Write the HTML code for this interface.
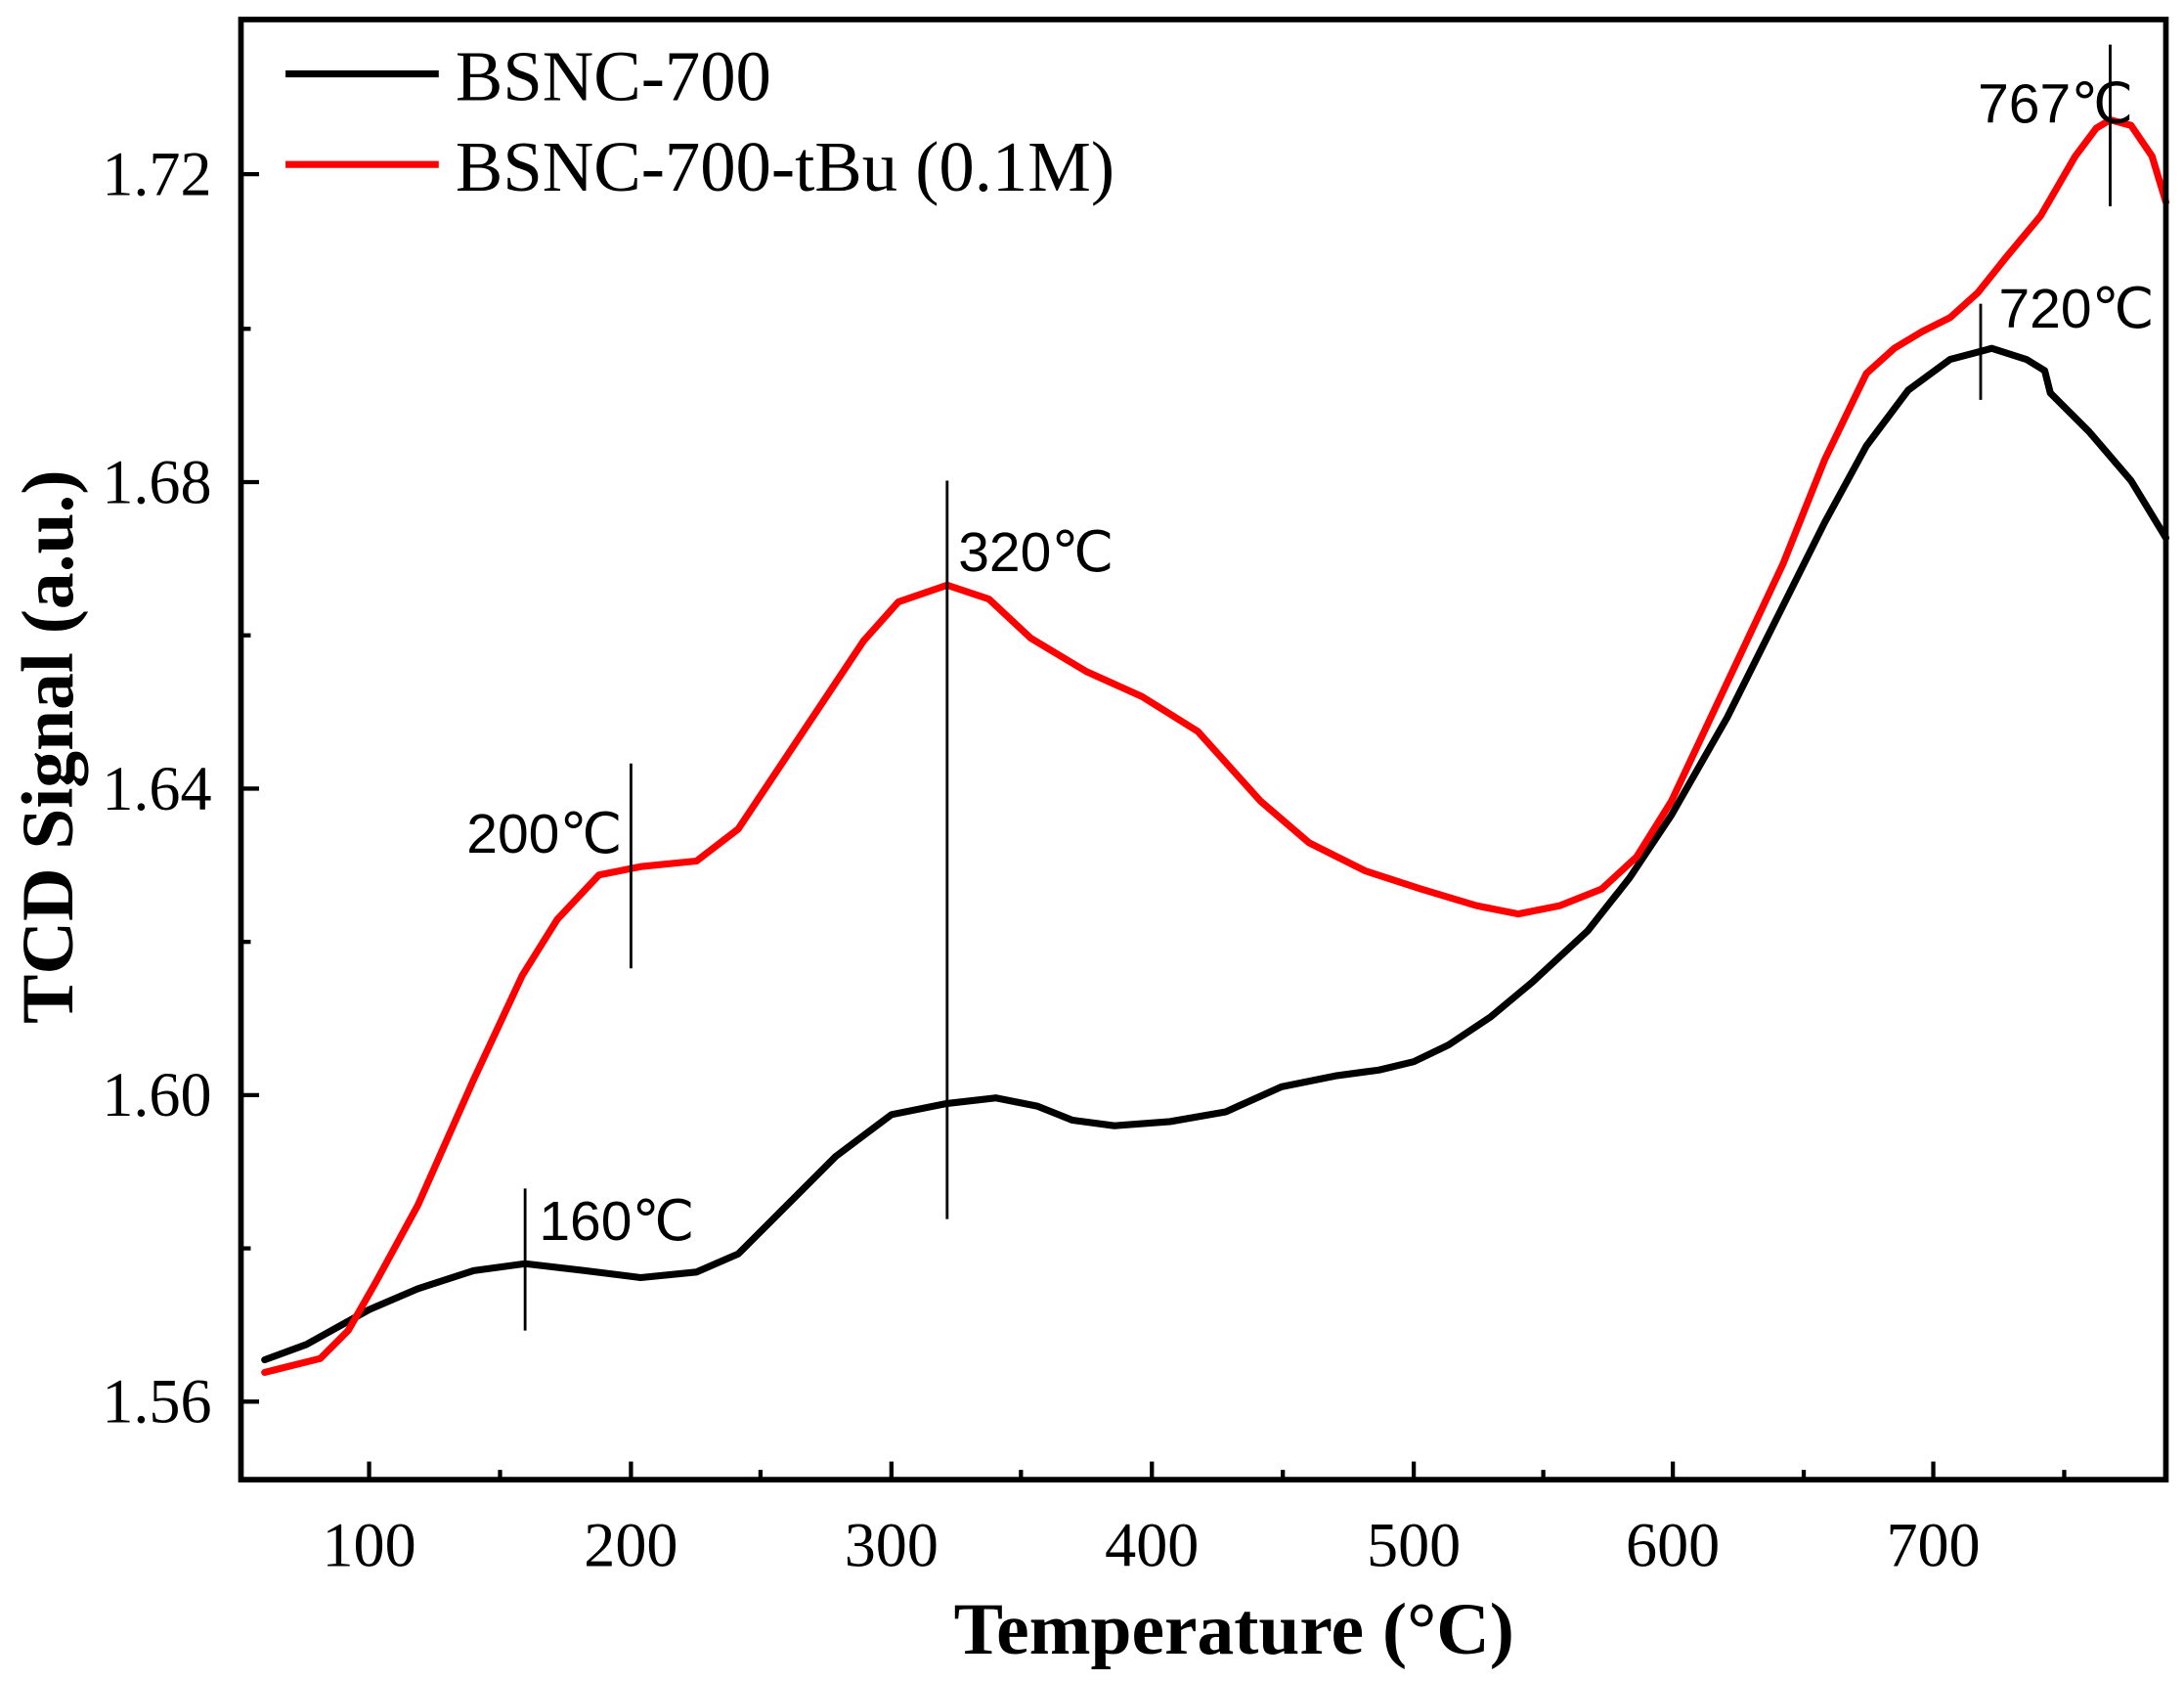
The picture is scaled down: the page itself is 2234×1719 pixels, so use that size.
<!DOCTYPE html>
<html><head><meta charset="utf-8"><style>html,body{margin:0;padding:0;background:#fff}svg{display:block}</style></head><body>
<svg width="2234" height="1719" viewBox="0 0 1568 1206.5" xmlns="http://www.w3.org/2000/svg">
<rect width="1568" height="1207" fill="#fff"/>
<g fill="none" stroke-linejoin="round" stroke-linecap="round">
<polyline stroke="#000" stroke-width="5" points="190,976 220,965 265,940 300,925 340,912 377,907 420,912 460,917 500,913 530,900 560,870 600,830 640,800 680,792 715,788 745,794 770,804 800,808 840,805 880,798 920,780 960,772 990,768 1015,762 1040,750 1070,730 1100,705 1140,668 1170,630 1200,585 1240,515 1280,435 1310,375 1340,320 1370,280 1400,258 1430,250 1455,258 1468,266 1472,282 1500,310 1530,345 1555,386"/>
<polyline stroke="#f00" stroke-width="5" points="190,985 230,975 250,955 270,920 300,865 340,775 375,700 400,660 430,628 460,622 500,618 530,595 570,535 600,490 620,460 645,432 680,420 710,430 740,458 780,482 820,500 860,525 905,575 940,605 980,625 1020,638 1060,650 1090,656 1120,650 1150,638 1175,615 1200,575 1240,490 1280,405 1310,330 1340,268 1360,250 1380,238 1400,228 1420,210 1440,185 1465,155 1490,112 1505,92 1515,86 1530,90 1545,112 1555,145"/>
</g>
<g stroke="#000" stroke-width="2">
<line x1="377" y1="853" x2="377" y2="955"/><line x1="453" y1="548" x2="453" y2="695"/>
<line x1="680" y1="345" x2="680" y2="875"/><line x1="1422" y1="218" x2="1422" y2="287"/>
<line x1="1515" y1="32" x2="1515" y2="148"/>
</g>
<g font-family="Liberation Sans, sans-serif" font-size="40" fill="#000">
<text x="387" y="890">160℃</text><text x="335" y="612">200℃</text>
<text x="688" y="410">320℃</text><text x="1435" y="235">720℃</text><text x="1420" y="88">767℃</text>
</g>
<rect x="173" y="14" width="1382" height="1048" fill="none" stroke="#000" stroke-width="4"/>
<g stroke="#000" stroke-width="3">
<line x1="265" y1="1062" x2="265" y2="1049"/><line x1="453" y1="1062" x2="453" y2="1049"/><line x1="640" y1="1062" x2="640" y2="1049"/><line x1="827" y1="1062" x2="827" y2="1049"/><line x1="1015" y1="1062" x2="1015" y2="1049"/><line x1="1201" y1="1062" x2="1201" y2="1049"/><line x1="1388" y1="1062" x2="1388" y2="1049"/>
<line x1="359" y1="1062" x2="359" y2="1055"/><line x1="546" y1="1062" x2="546" y2="1055"/><line x1="733" y1="1062" x2="733" y2="1055"/><line x1="921" y1="1062" x2="921" y2="1055"/><line x1="1108" y1="1062" x2="1108" y2="1055"/><line x1="1295" y1="1062" x2="1295" y2="1055"/><line x1="1482" y1="1062" x2="1482" y2="1055"/>
<line x1="173" y1="1006" x2="186" y2="1006"/><line x1="173" y1="786" x2="186" y2="786"/><line x1="173" y1="566" x2="186" y2="566"/><line x1="173" y1="346" x2="186" y2="346"/><line x1="173" y1="125" x2="186" y2="125"/>
<line x1="173" y1="896" x2="180" y2="896"/><line x1="173" y1="676" x2="180" y2="676"/><line x1="173" y1="456" x2="180" y2="456"/><line x1="173" y1="236" x2="180" y2="236"/>
</g>
<g font-family="Liberation Serif, serif" font-size="45" fill="#000">
<g text-anchor="end"><text x="152" y="1021">1.56</text><text x="152" y="801">1.60</text><text x="152" y="581">1.64</text><text x="152" y="361">1.68</text><text x="152" y="140">1.72</text></g>
<g text-anchor="middle"><text x="265" y="1124">100</text><text x="453" y="1124">200</text><text x="640" y="1124">300</text><text x="827" y="1124">400</text><text x="1015" y="1124">500</text><text x="1201" y="1124">600</text><text x="1388" y="1124">700</text></g>
</g>
<g font-family="Liberation Serif, serif" font-weight="bold" font-size="53" fill="#000" text-anchor="middle">
<text x="886" y="1187">Temperature (°C)</text>
<text transform="translate(52,536) rotate(-90)">TCD Signal (a.u.)</text>
</g>
<line x1="205" y1="53" x2="315" y2="53" stroke="#000" stroke-width="5"/>
<line x1="205" y1="118" x2="315" y2="118" stroke="#f00" stroke-width="5"/>
<g font-family="Liberation Serif, serif" font-size="51" fill="#000">
<text x="327" y="72">BSNC-700</text><text x="327" y="137">BSNC-700-tBu (0.1M)</text>
</g>
</svg>
</body></html>
